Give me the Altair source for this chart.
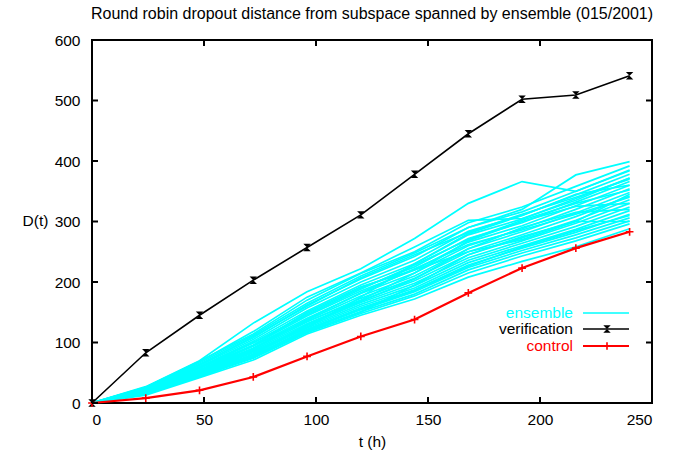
import altair as alt
import pandas as pd

TITLE = "Round robin dropout distance from subspace spanned by ensemble (015/2001)"
X_TITLE = "t (h)"
Y_TITLE = "D(t)"

T_HOURS = [0, 24, 48, 72, 96, 120, 144, 168, 192, 216, 240]
VERIFICATION = [0, 83, 145, 203, 257, 311, 378, 445, 502, 509, 541]
CONTROL = [0, 8, 21, 43, 77, 110, 138, 182, 223, 256, 283]

ENSEMBLE = [
    [0, 27, 70, 132, 184, 222, 272, 330, 366, 350, 385],
    [0, 26, 68, 118, 175, 215, 258, 302, 305, 335, 372],
    [0, 25, 66, 112, 165, 210, 248, 290, 320, 377, 399],
    [0, 26, 69, 114, 170, 214, 250, 298, 324, 358, 392],
    [0, 24, 64, 108, 162, 205, 242, 290, 316, 350, 384],
    [0, 23, 62, 105, 157, 200, 236, 284, 310, 344, 378],
    [0, 22, 60, 102, 152, 195, 230, 278, 304, 338, 372],
    [0, 21, 58, 99, 148, 190, 225, 272, 298, 332, 366],
    [0, 21, 57, 96, 144, 185, 220, 266, 293, 326, 360],
    [0, 20, 55, 94, 140, 181, 215, 260, 288, 320, 354],
    [0, 19, 54, 91, 137, 177, 210, 255, 283, 314, 348],
    [0, 19, 52, 89, 134, 173, 206, 250, 278, 308, 342],
    [0, 18, 51, 87, 131, 169, 202, 245, 273, 302, 336],
    [0, 17, 50, 85, 128, 166, 198, 240, 268, 297, 330],
    [0, 17, 49, 83, 126, 163, 194, 236, 264, 292, 324],
    [0, 16, 48, 81, 124, 160, 190, 232, 260, 287, 318],
    [0, 16, 47, 79, 122, 157, 187, 228, 256, 282, 312],
    [0, 15, 46, 77, 120, 154, 184, 224, 252, 278, 306],
    [0, 15, 45, 75, 118, 151, 180, 220, 248, 273, 301],
    [0, 14, 44, 74, 116, 148, 177, 215, 243, 268, 296],
    [0, 13, 42, 71, 114, 145, 172, 208, 234, 258, 288],
    [0, 18, 53, 95, 150, 192, 220, 250, 270, 300, 345],
    [0, 22, 58, 95, 135, 170, 215, 268, 300, 325, 330],
    [0, 20, 50, 85, 125, 175, 230, 280, 310, 345, 360],
    [0, 16, 46, 80, 130, 168, 205, 255, 290, 315, 320],
    [0, 14, 45, 78, 118, 150, 195, 245, 275, 300, 300],
    [0, 23, 63, 110, 160, 207, 245, 282, 312, 340, 370],
    [0, 19, 53, 90, 138, 182, 222, 262, 286, 312, 340],
    [0, 15, 44, 76, 121, 156, 186, 226, 258, 285, 310],
    [0, 21, 59, 100, 146, 188, 228, 270, 302, 330, 352],
]

X_TICKS = [0, 50, 100, 150, 200, 250]
Y_TICKS = [0, 100, 200, 300, 400, 500, 600]

LEGEND_LABELS = ["ensemble", "verification", "control"]
LEGEND_COLORS = ["#00ffff", "#000000", "#ff0000"]

FONT = "Liberation Sans"
FS = 15.5
FS_TITLE = 16
W, H = 560, 363

ens_rows = []
for i, member in enumerate(ENSEMBLE):
    for t, d in zip(T_HOURS, member):
        ens_rows.append({"member": i, "t": t, "D": d})
ens_df = pd.DataFrame(ens_rows)
ver_df = pd.DataFrame({"t": T_HOURS, "D": VERIFICATION})
ctl_df = pd.DataFrame({"t": T_HOURS, "D": CONTROL})
xt_df = pd.DataFrame({"v": X_TICKS})
yt_df = pd.DataFrame({"v": Y_TICKS})

xs = alt.Scale(domain=[0, 250], nice=False, zero=False)
ys = alt.Scale(domain=[0, 600], nice=False, zero=False)

x_axis = alt.Axis(values=X_TICKS, ticks=False, domain=False, grid=False, labelFont=FONT,
                  labelFontSize=FS, labelColor="black", labelPadding=9, title=X_TITLE,
                  titleFont=FONT, titleFontSize=FS, titleFontWeight="normal", titleColor="black",
                  titleY=38, titleBaseline="middle")
y_axis = alt.Axis(values=Y_TICKS, ticks=False, domain=False, grid=False, labelFont=FONT,
                  labelFontSize=FS, labelColor="black", labelPadding=12, title=Y_TITLE,
                  titleFont=FONT, titleFontSize=FS, titleFontWeight="normal", titleColor="black",
                  titleAngle=0, titleX=-57, titleY=180, titleAlign="center", titleBaseline="middle")

ensemble = alt.Chart(ens_df).mark_line(color="#00ffff", strokeWidth=1.7, clip=True).encode(
    x=alt.X("t:Q", scale=xs, axis=x_axis),
    y=alt.Y("D:Q", scale=ys, axis=y_axis),
    detail="member:N",
)

ver_line = alt.Chart(ver_df).mark_line(color="black", strokeWidth=1.6).encode(
    x=alt.X("t:Q", scale=xs), y=alt.Y("D:Q", scale=ys))
ver_pts = alt.Chart(ver_df).mark_point(shape="M-1,-1L1,-1L-1,1L1,1Z", filled=True, color="black",
                                       size=55, opacity=1).encode(
    x=alt.X("t:Q", scale=xs), y=alt.Y("D:Q", scale=ys))

ctl_line = alt.Chart(ctl_df).mark_line(color="#ff0000", strokeWidth=2.2).encode(
    x=alt.X("t:Q", scale=xs), y=alt.Y("D:Q", scale=ys))
ctl_pts = alt.Chart(ctl_df).mark_point(shape="M-1,0L1,0M0,-1L0,1", filled=False, color="#ff0000",
                                       strokeWidth=1.6, size=60, opacity=1).encode(
    x=alt.X("t:Q", scale=xs), y=alt.Y("D:Q", scale=ys))

tick_style = dict(color="black", strokeWidth=2)
xt_bottom = alt.Chart(xt_df).mark_rule(**tick_style).encode(
    x=alt.X("v:Q", scale=xs), y=alt.value(H), y2=alt.value(H - 6))
xt_top = alt.Chart(xt_df).mark_rule(**tick_style).encode(
    x=alt.X("v:Q", scale=xs), y=alt.value(0), y2=alt.value(6))
yt_left = alt.Chart(yt_df).mark_rule(**tick_style).encode(
    y=alt.Y("v:Q", scale=ys), x=alt.value(0), x2=alt.value(6))
yt_right = alt.Chart(yt_df).mark_rule(**tick_style).encode(
    y=alt.Y("v:Q", scale=ys), x=alt.value(W), x2=alt.value(W - 6))

legend_layers = []
row_y = [273, 289, 306]
widths = {"ensemble": 1.4, "verification": 1.6, "control": 2.2}
for lab, col, yy in zip(LEGEND_LABELS, LEGEND_COLORS, row_y):
    ldf = pd.DataFrame({"label": [lab]})
    legend_layers.append(
        alt.Chart(ldf).mark_text(align="right", baseline="middle", font=FONT, fontSize=FS,
                                 color=col).encode(text="label:N", x=alt.value(481), y=alt.value(yy))
    )
    legend_layers.append(
        alt.Chart(ldf).mark_rule(color=col, strokeWidth=widths[lab]).encode(
            x=alt.value(491), x2=alt.value(537), y=alt.value(yy))
    )
ldf_v = pd.DataFrame({"label": ["verification"]})
legend_layers.append(
    alt.Chart(ldf_v).mark_point(shape="M-1,-1L1,-1L-1,1L1,1Z", filled=True, color="black",
                                size=55, opacity=1).encode(x=alt.value(515), y=alt.value(row_y[1]))
)
ldf_c = pd.DataFrame({"label": ["control"]})
legend_layers.append(
    alt.Chart(ldf_c).mark_point(shape="M-1,0L1,0M0,-1L0,1", filled=False, color="#ff0000",
                                strokeWidth=1.6, size=60, opacity=1).encode(x=alt.value(515), y=alt.value(row_y[2]))
)

chart = alt.layer(
    ensemble, ver_line, ver_pts, ctl_line, ctl_pts,
    xt_bottom, xt_top, yt_left, yt_right, *legend_layers
).properties(
    width=W, height=H,
    title=alt.TitleParams(TITLE, font=FONT, fontSize=FS_TITLE, fontWeight="normal", color="black",
                          anchor="middle", offset=11),
    autosize=alt.AutoSizeParams(type="none"),
    padding={"left": 92, "top": 40, "right": 29, "bottom": 53},
    background="white",
).configure_view(stroke="black", strokeWidth=2)

chart.save("out.html", embed_options={"renderer": "svg", "actions": False})
